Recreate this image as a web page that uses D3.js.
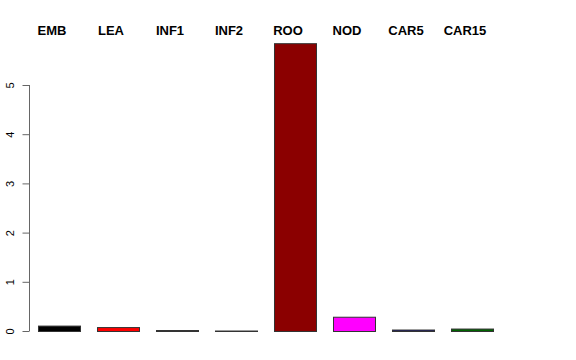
<!DOCTYPE html>
<html>
<head>
<meta charset="utf-8">
<script src="https://cdn.jsdelivr.net/npm/d3@7"></script>
<style>
  html, body { margin: 0; padding: 0; background: #fff; }
  svg { display: block; }
  text { font-family: "Liberation Sans", Arial, Helvetica, sans-serif; }
</style>
</head>
<body>
<svg id="chart" width="576" height="360"></svg>
<script>
const categories = ["EMB", "LEA", "INF1", "INF2", "ROO", "NOD", "CAR5", "CAR15"];
const values = [0.11, 0.08, 0.02, 0.01, 5.85, 0.29, 0.03, 0.05];
const colors = ["#000000", "#ff0000", "#1e3a1e", "#bebebe", "#8b0000", "#ff00ff", "#191970", "#006400"];
const yTicks = [0, 1, 2, 3, 4, 5];

const svg = d3.select("#chart");

const x = d3.scaleBand()
  .domain(categories)
  .range([29.5, 501.5])
  .paddingInner(0.288)
  .paddingOuter(0.144);

const y = d3.scaleLinear()
  .domain([0, 5])
  .range([331, 85]);

// bars
svg.append("g")
  .selectAll("rect")
  .data(categories)
  .join("rect")
  .attr("x", d => x(d) + 0.5)
  .attr("y", (d, i) => y(values[i]) + 0.5)
  .attr("width", x.bandwidth())
  .attr("height", (d, i) => Math.max(0, y(0) - y(values[i])))
  .attr("fill", (d, i) => colors[i])
  .attr("stroke", "#333")
  .attr("stroke-width", 1);

// y axis
const axis = d3.axisLeft(y).tickValues(yTicks).tickSize(7).tickPadding(8).tickFormat(d3.format("d"));
const gAxis = svg.append("g")
  .attr("transform", "translate(29.5,0)")
  .call(axis);
gAxis.select(".domain").attr("stroke", "#666").attr("d", `M0,${y(0)}V${y(5)}`);
gAxis.selectAll(".tick line").attr("stroke", "#666");
gAxis.selectAll(".tick text")
  .attr("font-size", 11)
  .attr("fill", "#000")
  .attr("text-anchor", "middle")
  .attr("dy", null)
  .attr("x", null)
  .attr("transform", "translate(-20,0) rotate(-90)")
  .attr("dominant-baseline", "auto")
  .attr("y", 4);

// category labels
svg.append("g")
  .selectAll("text")
  .data(categories)
  .join("text")
  .attr("x", d => x(d) + x.bandwidth() / 2 - 7)
  .attr("y", 35)
  .attr("text-anchor", "middle")
  .attr("font-weight", "bold")
  .attr("font-size", 13)
  .attr("fill", "#000")
  .text(d => d);
</script>
</body>
</html>
